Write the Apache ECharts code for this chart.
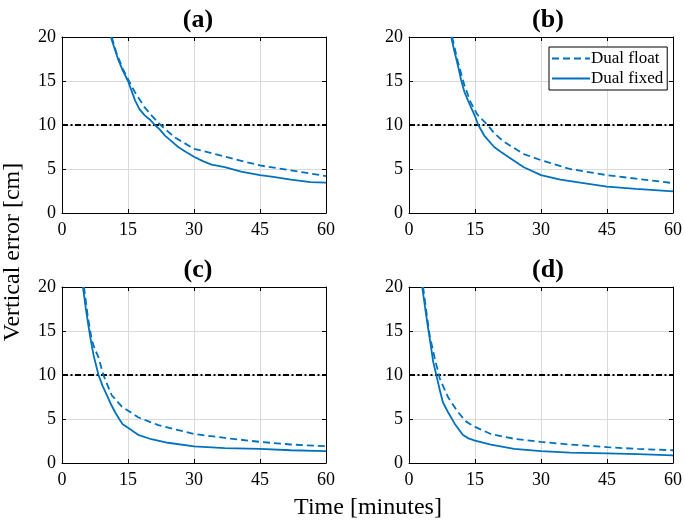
<!DOCTYPE html>
<html><head><meta charset="utf-8">
<script src="https://cdn.jsdelivr.net/npm/echarts@6/dist/echarts.min.js"></script>
<style>html,body{margin:0;padding:0;background:#fff}#c{width:685px;height:523px}</style>
</head><body><div id="c"></div>
<script>
// ---- data ----
const panelTitles = ['(a)', '(b)', '(c)', '(d)'];
const seriesNames = ['Dual float', 'Dual fixed'];
const threshold = 10;
const xTickStep = 15, xMax = 60;
const yTickStep = 5, yMax = 20;

const aFixedX = [11.1, 12.0, 12.8, 13.8, 15.0, 15.8, 16.6, 17.6, 18.8, 20.0, 21.1, 22.2, 23.4, 24.8, 26.4, 28.0, 30.0, 32.0, 34.0, 37.0, 40.7, 45.0, 48.0, 52.0, 56.5, 60.0];
const aFixedY = [20.0, 18.6, 17.4, 16.2, 15.0, 13.9, 12.8, 11.8, 11.1, 10.6, 10.0, 9.5, 8.8, 8.2, 7.5, 7.0, 6.4, 5.9, 5.5, 5.2, 4.7, 4.3, 4.1, 3.8, 3.5, 3.45];
const aFloatX = [11.3, 12.5, 13.8, 15.0, 16.6, 18.8, 20.5, 22.4, 25.6, 30.0, 37.0, 45.0, 52.0, 60.0];
const aFloatY = [20.0, 18.0, 16.4, 15.2, 13.7, 12.0, 11.0, 10.0, 8.6, 7.3, 6.4, 5.4, 4.85, 4.2];

const bFixedX = [9.6, 10.3, 11.1, 11.8, 12.6, 13.4, 14.1, 15.0, 15.75, 17.1, 19.35, 21.0, 23.1, 26.1, 30.0, 34.4, 38.9, 45.0, 51.6, 60.0];
const bFixedY = [20.0, 18.4, 16.8, 15.2, 13.75, 12.8, 12.0, 11.0, 10.0, 8.8, 7.5, 6.9, 6.2, 5.2, 4.3, 3.8, 3.45, 3.0, 2.75, 2.45];
const bFloatX = [9.8, 11.1, 12.6, 14.0, 15.5, 17.85, 19.5, 21.6, 26.1, 30.0, 36.6, 45.0, 51.6, 60.0];
const bFloatY = [20.0, 17.2, 14.5, 12.6, 11.2, 10.0, 9.0, 8.1, 6.7, 6.0, 5.0, 4.3, 3.9, 3.4];

const cFixedX = [4.75, 5.4, 6.0, 6.6, 7.2, 8.3, 9.2, 10.2, 11.1, 12.05, 13.0, 13.8, 15.0, 17.3, 20.3, 24.1, 30.0, 37.0, 45.0, 52.0, 60.0];
const cFixedY = [20.0, 17.6, 15.6, 13.8, 12.2, 10.0, 8.8, 7.7, 6.7, 5.8, 5.0, 4.4, 4.0, 3.2, 2.7, 2.3, 1.9, 1.7, 1.6, 1.45, 1.35];
const cFloatX = [5.0, 5.9, 6.8, 7.5, 8.3, 9.4, 11.3, 13.6, 17.3, 21.9, 30.0, 37.0, 45.0, 52.0, 60.0];
const cFloatY = [20.0, 16.5, 13.9, 12.9, 12.0, 10.0, 7.7, 6.4, 5.2, 4.3, 3.3, 2.85, 2.4, 2.1, 1.9];

const dFixedX = [3.0, 3.7, 4.35, 5.0, 5.5, 6.2, 7.0, 7.7, 8.85, 10.35, 12.2, 13.5, 15.0, 18.6, 23.9, 30.0, 36.6, 45.0, 52.0, 60.0];
const dFixedY = [20.0, 17.5, 15.3, 13.2, 11.5, 10.0, 8.3, 6.9, 5.8, 4.5, 3.2, 2.8, 2.55, 2.1, 1.6, 1.35, 1.17, 1.1, 1.0, 0.87];
const dFloatX = [3.2, 4.0, 4.7, 5.85, 7.0, 8.85, 11.1, 13.0, 15.0, 18.6, 23.9, 30.0, 36.6, 45.0, 52.0, 60.0];
const dFloatY = [20.0, 17.0, 14.5, 11.9, 9.6, 7.5, 5.8, 4.7, 4.1, 3.3, 2.75, 2.4, 2.1, 1.8, 1.6, 1.45];

// ---- build ----
const zip = (xs, ys) => xs.map((x, i) => [x, ys[i]]);
const panels = [
  {float: zip(aFloatX, aFloatY), fixed: zip(aFixedX, aFixedY)},
  {float: zip(bFloatX, bFloatY), fixed: zip(bFixedX, bFixedY)},
  {float: zip(cFloatX, cFloatY), fixed: zip(cFixedX, cFixedY)},
  {float: zip(dFloatX, dFloatY), fixed: zip(dFixedX, dFixedY)}
];
const FONT = 'Liberation Serif';
const BLUE = '#0072BD';
const grids = [
  {left: 62, top: 37, width: 264, height: 176},
  {left: 409, top: 37, width: 266, height: 176},
  {left: 62, top: 287, width: 264, height: 176},
  {left: 409, top: 287, width: 266, height: 176}
];
const titleCenters = [[198, 7], [548, 7], [198, 257], [548, 257]];

const xAxis = [], yAxis = [], series = [];
grids.forEach((g, i) => {
  const baseLine = {show: true, onZero: false, lineStyle: {color: '#000', width: 1}};
  xAxis.push({type: 'value', gridIndex: i, min: 0, max: xMax, interval: xTickStep, position: 'bottom',
    axisLine: baseLine, axisTick: {show: true, inside: true, length: 4, lineStyle: {color: '#000'}},
    axisLabel: {color: '#000', fontFamily: FONT, fontSize: 18, margin: 8},
    splitLine: {show: true, lineStyle: {color: '#dadada', width: 1}}});
  xAxis.push({type: 'value', gridIndex: i, min: 0, max: xMax, interval: xTickStep, position: 'top',
    axisLine: baseLine, axisTick: {show: true, inside: true, length: 4, lineStyle: {color: '#000'}},
    axisLabel: {show: false}, splitLine: {show: false}});
  yAxis.push({type: 'value', gridIndex: i, min: 0, max: yMax, interval: yTickStep, position: 'left',
    axisLine: baseLine, axisTick: {show: true, inside: true, length: 4, lineStyle: {color: '#000'}},
    axisLabel: {color: '#000', fontFamily: FONT, fontSize: 18, margin: 6},
    splitLine: {show: true, lineStyle: {color: '#dadada', width: 1}}});
  yAxis.push({type: 'value', gridIndex: i, min: 0, max: yMax, interval: yTickStep, position: 'right',
    axisLine: baseLine, axisTick: {show: true, inside: true, length: 4, lineStyle: {color: '#000'}},
    axisLabel: {show: false}, splitLine: {show: false}});
  const xi = i * 2, yi = i * 2;
  series.push({type: 'line', name: 'threshold', xAxisIndex: xi, yAxisIndex: yi, symbol: 'none', silent: true,
    data: [[0, threshold], [xMax, threshold]],
    lineStyle: {color: '#000', width: 2.2, type: [6, 2.5, 2, 2.5]}});
  series.push({type: 'line', name: seriesNames[0], xAxisIndex: xi, yAxisIndex: yi, symbol: 'none',
    data: panels[i].float, color: BLUE, lineStyle: {color: BLUE, width: 1.8, type: [7, 4]}});
  series.push({type: 'line', name: seriesNames[1], xAxisIndex: xi, yAxisIndex: yi, symbol: 'none',
    data: panels[i].fixed, color: BLUE, lineStyle: {color: BLUE, width: 1.8, type: 'solid'}});
});

const option = {
  animation: false,
  backgroundColor: '#fff',
  title: panelTitles.map((t, i) => ({text: t, left: titleCenters[i][0], top: titleCenters[i][1], textAlign: 'center',
    padding: 0, textStyle: {fontFamily: FONT, fontWeight: 'bold', fontSize: 26, color: '#000'}})),
  grid: grids,
  xAxis, yAxis, series,
  legend: {data: seriesNames, orient: 'vertical', left: 549, top: 47,
    itemWidth: 38, itemHeight: 12, itemGap: 3,
    padding: [3, 4, 3, 2], borderColor: '#000', borderWidth: 1, backgroundColor: '#fff',
    itemStyle: {opacity: 0},
    textStyle: {fontFamily: FONT, fontSize: 17, color: '#000', padding: [0, 0, 0, -4]}},
  graphic: [
    {type: 'text', x: 13, y: 252, rotation: Math.PI / 2,
      style: {text: 'Vertical error [cm]', fontFamily: FONT, fontSize: 24, fill: '#000', textAlign: 'center', textVerticalAlign: 'middle'}},
    {type: 'text', x: 368, y: 508,
      style: {text: 'Time [minutes]', fontFamily: FONT, fontSize: 24, fill: '#000', textAlign: 'center', textVerticalAlign: 'middle'}}
  ]
};
const chart = echarts.init(document.getElementById('c'), null, {renderer: 'canvas'});
chart.setOption(option);
</script></body></html>
